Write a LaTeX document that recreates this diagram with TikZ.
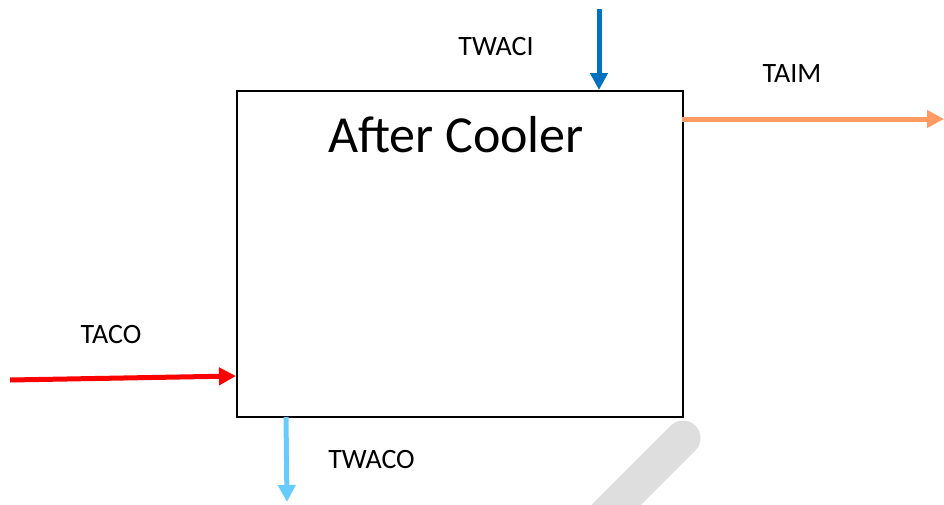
\documentclass[tikz,border=0pt]{standalone}
\usepackage{fontspec}
\setmainfont{Carlito}
\usetikzlibrary{arrows.meta}
\definecolor{cblue}{HTML}{0070C0}
\definecolor{corange}{HTML}{FF9B63}
\definecolor{cred}{HTML}{FF0000}
\definecolor{clight}{HTML}{66CCFF}
\definecolor{cgray}{HTML}{DEDEDE}
\begin{document}
\begin{tikzpicture}[x=1pt,y=-1pt,
  flow/.style={line width=5pt,-{Triangle[length=17pt,width=17pt]}},
  lbl/.style={font=\fontsize{28}{30}\selectfont,anchor=base,inner sep=0pt}]
\useasboundingbox (0,0) rectangle (944,504);
% watermark-like gray stroke
\draw[cgray,line width=35pt,line cap=round] (683,438) -- (600,521);
\node[draw=black,line width=2pt,minimum width=446pt,minimum height=326pt,inner sep=0pt,anchor=north west] (cooler) at (236,90) {};
\node[lbl,font=\fontsize{52}{54}\selectfont] (title) at (456,152) {After Cooler};
\coordinate (wi) at (599,9);
\coordinate (wiend) at (599,90);
\coordinate (aim) at (682,119);
\coordinate (aimend) at (944,119);
\coordinate (aco) at (10,380);
\coordinate (acoend) at (236,376);
\coordinate (wco) at (286,417);
\coordinate (wcoend) at (287,502);
\draw[flow,cblue] (wi) -- (wiend);
\draw[flow,corange] (aim) -- (aimend);
\draw[flow,cred] (aco) -- (acoend);
\draw[flow,clight] (wco) -- (wcoend);
\node[lbl] (twaci) at (496,55) {TWACI};
\node[lbl] (taim) at (792,82) {TAIM};
\node[lbl] (taco) at (111,343) {TACO};
\node[lbl] (twaco) at (371.5,468) {TWACO};
\end{tikzpicture}
\end{document}
